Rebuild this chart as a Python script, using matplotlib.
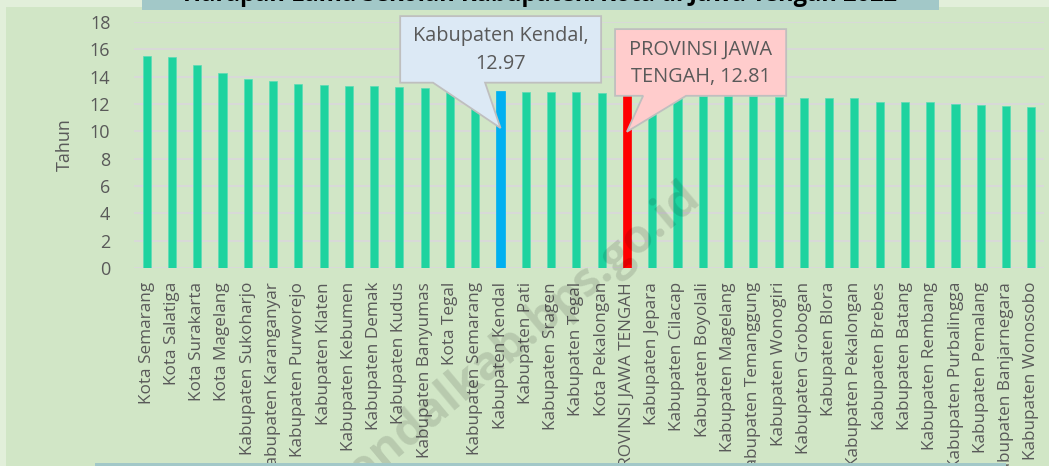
import matplotlib
matplotlib.use("Agg")
import matplotlib.pyplot as plt
from matplotlib.patches import Rectangle, Polygon

plt.rcParams['font.family'] = ['Open Sans', 'DejaVu Sans']

# --- data -----------------------------------------------------------------
regions = [
    "Kota Semarang", "Kota Salatiga", "Kota Surakarta", "Kota Magelang",
    "Kabupaten Sukoharjo", "Kabupaten Karanganyar", "Kabupaten Purworejo",
    "Kabupaten Klaten", "Kabupaten Kebumen", "Kabupaten Demak",
    "Kabupaten Kudus", "Kabupaten Banyumas", "Kota Tegal",
    "Kabupaten Semarang", "Kabupaten Kendal", "Kabupaten Pati",
    "Kabupaten Sragen", "Kabupaten Tegal", "Kota Pekalongan",
    "PROVINSI JAWA TENGAH", "Kabupaten Jepara", "Kabupaten Cilacap",
    "Kabupaten Boyolali", "Kabupaten Magelang", "Kabupaten Temanggung",
    "Kabupaten Wonogiri", "Kabupaten Grobogan", "Kabupaten Blora",
    "Kabupaten Pekalongan", "Kabupaten Brebes", "Kabupaten Batang",
    "Kabupaten Rembang", "Kabupaten Purbalingga", "Kabupaten Pemalang",
    "Kabupaten Banjarnegara", "Kabupaten Wonosobo",
]
years = [
    15.51, 15.41, 14.86, 14.26, 13.85, 13.66, 13.48, 13.36, 13.31, 13.29,
    13.22, 13.17, 13.10, 13.03, 12.97, 12.90, 12.88, 12.88, 12.84, 12.81,
    12.72, 12.63, 12.60, 12.57, 12.55, 12.48, 12.44, 12.44, 12.43, 12.15,
    12.15, 12.13, 12.02, 11.96, 11.83, 11.78,
]
highlight_kab = "Kabupaten Kendal"
highlight_prov = "PROVINSI JAWA TENGAH"
yticks = list(range(0, 19, 2))

title = "Harapan Lama Sekolah Kabupaten/Kota di Jawa Tengah 2022"

BAR = "#1ed39f"
BLUE = "#00b0f0"
RED = "#ff0000"
TXT = "#595959"
PANEL = "#d1e6c6"
OUTER = "#e2efda"
STRIP = "#a2c8c8"

W, H = 1049, 466
fig = plt.figure(figsize=(W / 100, H / 100), dpi=100, facecolor=OUTER)

# chart panel + header strip (title mostly cut off by the top edge)
fig.add_artist(Rectangle((6 / W, 0), 1 - 6 / W, 1 - 7 / H, transform=fig.transFigure,
                         fc=PANEL, ec="none", zorder=-10))
fig.add_artist(Rectangle((142 / W, 1 - 10 / H), (939 - 142) / W, 10 / H,
                         transform=fig.transFigure, fc=STRIP, ec="none", zorder=-5))
fig.text(540 / W, 1 - 1 / H, title, ha="center", va="baseline",
         fontsize=17, fontweight="bold", color="black", zorder=-4)

ax = fig.add_axes([134 / W, 1 - 268 / H, 910 / W, 246 / H])
ax.set_facecolor("none")

x = list(range(len(regions)))
colors = [BLUE if r == highlight_kab else RED if r == highlight_prov else BAR
          for r in regions]
edges = ["#5cdbb6" if c == BAR else c for c in colors]
ax.bar(x, years, width=0.32, color=colors, edgecolor=edges, linewidth=0.5, zorder=3)

ax.set_xlim(-0.5, len(regions) - 0.5)
ax.set_ylim(0, 18)
ax.set_yticks(yticks)
ax.set_xticks(x)
ax.set_xticklabels(regions, rotation=90, ha="center", va="top")
ax.grid(axis="y", color="#d9d9d9", linewidth=1.4, zorder=0)
for s in ax.spines.values():
    s.set_visible(False)
ax.tick_params(axis="y", length=0, pad=17, labelsize=13, labelcolor=TXT)
ax.tick_params(axis="x", length=0, pad=10, labelsize=12.3, labelcolor=TXT)
ax.set_ylabel("Tahun", fontsize=13, color=TXT)
ax.yaxis.set_label_coords(-0.066, 0.5)


def callout(idx, tip_y, box, base, fc, label, text_xy):
    # box = (dx0, dx1, y_bottom, y_top) relative to bar index; base = (dx0, dx1)
    bx0, bx1, yb, yt = box
    pts = [(idx + bx0, yt), (idx + bx1, yt), (idx + bx1, yb), (idx + base[1], yb),
           (idx, tip_y), (idx + base[0], yb), (idx + bx0, yb)]
    ax.add_patch(Polygon(pts, closed=True, fc=fc, ec="#bfbfbf", lw=1.3,
                         clip_on=False, zorder=6))
    ax.text(idx + text_xy[0], text_xy[1], label, ha="center", va="center",
            fontsize=14.3, color=TXT, linespacing=1.5, zorder=7, clip_on=False)


k = regions.index(highlight_kab)
p = regions.index(highlight_prov)
callout(k, 10.24, (-3.97, 3.98, 13.56, 18.43), (-2.67, -0.61), "#dce9f5",
        f"{highlight_kab},\n{years[k]:.2f}", (0.0, 15.95))
callout(p, 9.97, (-0.47, 6.30, 12.60, 17.48), (0.64, 2.34), "#ffcccc",
        "PROVINSI JAWA\nTENGAH, " + f"{years[p]:.2f}", (2.92, 14.95))

# watermark
fig.text(513 / W, 1 - 342 / H, "kendalkab.bps.go.id", rotation=40,
         ha="center", va="center", fontsize=34, fontweight="bold",
         color="black", alpha=0.12, zorder=8)

# bottom strip covering label ends
fig.add_artist(Rectangle((95 / W, 0), (1006 - 95) / W, 3.5 / H,
                         transform=fig.transFigure, fc=STRIP, ec="none", zorder=9))

fig.savefig("out.png", dpi=100, facecolor=OUTER)
